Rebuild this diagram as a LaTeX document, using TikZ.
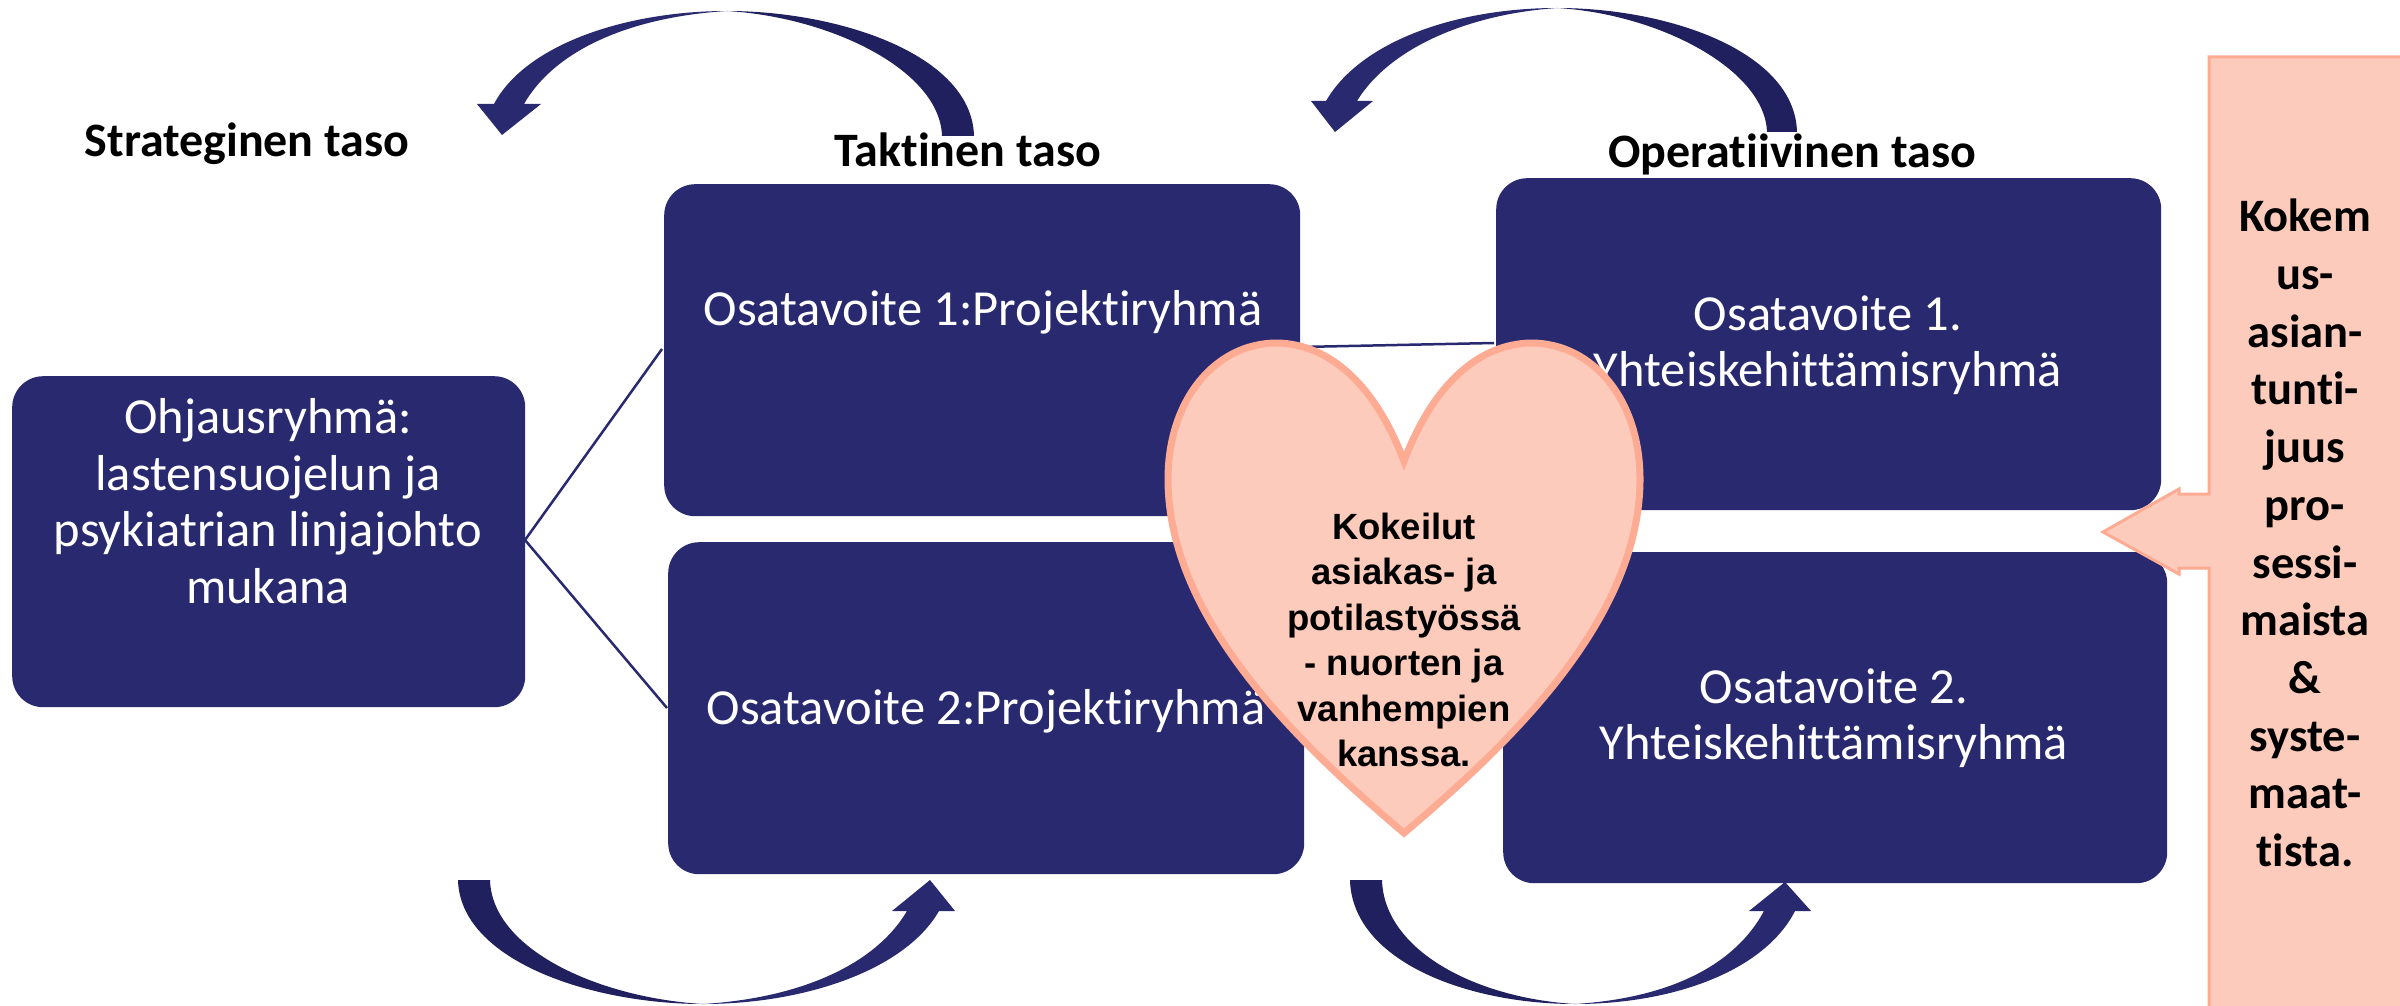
\documentclass[tikz,border=0pt]{standalone}
\usepackage{fontspec}
\setmainfont{Carlito}[Ligatures=NoCommon]
\newfontfamily\heartfont{Liberation Sans}
\definecolor{navy}{HTML}{29296F}
\definecolor{navydark}{HTML}{20205E}
\definecolor{peach}{HTML}{FDCBBC}
\definecolor{peachline}{HTML}{FDAB93}
\tikzset{
  bluebox/.style={fill=navy,rounded corners=31pt,minimum width=#1,anchor=north west,inner sep=0pt},
  boxtext/.style={text=white,font=\fontsize{50.5}{56.5}\selectfont,align=center},
  tasolabel/.style={font=\fontsize{48}{56}\selectfont\bfseries,text=black,inner sep=0pt},
  linkline/.style={draw=navy,line width=2.5pt},
}
\begin{document}
\begin{tikzpicture}[x=1pt,y=-1pt]
\useasboundingbox (0,0) rectangle (2400,1006);
\fill[white] (0,0) rectangle (2400,1006);
% boxes
\node[bluebox=513pt,minimum height=331pt] (ohj) at (12,376) {};
\node[bluebox=636pt,minimum height=332pt] (t1) at (664,184) {};
\node[bluebox=636pt,minimum height=332pt] (t2) at (668,542) {};
\node[bluebox=665pt,minimum height=332pt] (o1) at (1496,178) {};
\node[bluebox=664pt,minimum height=331pt] (o2) at (1503,552) {};
% box texts
\node[boxtext] (ohjt) at (268,501) {Ohjausryhmä:\\lastensuojelun ja\\psykiatrian linjajohto\\mukana};
\node[boxtext] (t1t) at (983,312) {Osatavoite 1:Projektiryhmä};
\node[boxtext] (t2t) at (986,711) {Osatavoite 2:Projektiryhmä};
\node[boxtext] (o1t) at (1828,345) {Osatavoite 1.\\Yhteiskehittämisryhmä};
\node[boxtext] (o2t) at (1834,718) {Osatavoite 2.\\Yhteiskehittämisryhmä};
% links
\coordinate (ohjr) at (525,540);
\coordinate (t1l) at (662,349);
\coordinate (t2l) at (667,708);
\coordinate (t1r) at (1300,347);
\coordinate (o1l) at (1494,343);
\draw[linkline] (t1l) -- (ohjr) -- (t2l);
\draw[linkline] (t1r) -- (o1l);
% labels
\node[tasolabel] (s) at (247,144) {Strateginen taso};
\node[tasolabel] (ta) at (968,150) {Taktinen taso};
\node[tasolabel] (op) at (1792,154) {Operatiivinen taso};
% curved arrows
\fill[navydark] (974,136) -- (942,136) .. controls (940,70) and (830,17) .. (727,11) .. controls (840,11) and (972,55) .. (974,136) -- cycle;
\fill[navy] (727,11) .. controls (630,17) and (555,50) .. (524,104) -- (541,104) -- (502,135) -- (477,104) -- (494,104) .. controls (525,45) and (625,11) .. (727,11) -- cycle;
\fill[navydark] (1797,132) -- (1767,132) .. controls (1765,70) and (1660,14) .. (1557,8) .. controls (1670,8) and (1795,52) .. (1797,132) -- cycle;
\fill[navy] (1557,8) .. controls (1470,14) and (1390,47) .. (1357,101) -- (1373,101) -- (1335,132) -- (1311,101) -- (1326,101) .. controls (1360,42) and (1455,8) .. (1557,8) -- cycle;
\fill[navydark] (458,880) -- (490,880) .. controls (492,950) and (600,998) .. (703,1004) .. controls (590,1004) and (460,960) .. (458,880) -- cycle;
\fill[navy] (703,1004) .. controls (800,998) and (875,965) .. (907,911) -- (892,911) -- (930,880) -- (955,911) -- (939,911) .. controls (905,970) and (805,1004) .. (703,1004) -- cycle;
\fill[navydark] (1350,880) -- (1382,880) .. controls (1384,950) and (1475,998) .. (1575,1004) .. controls (1465,1004) and (1352,960) .. (1350,880) -- cycle;
\fill[navy] (1575,1004) .. controls (1670,998) and (1735,965) .. (1764,911) -- (1749,911) -- (1785,882) -- (1811,911) -- (1795,911) .. controls (1765,970) and (1675,1004) .. (1575,1004) -- cycle;
% heart
\path[fill=peach,draw=peachline,line width=7pt,miter limit=10]
 (1404,461) .. controls (1375,385) and (1330,344) .. (1277,343)
 .. controls (1215,343) and (1168,400) .. (1168,479)
 .. controls (1168,620) and (1300,745) .. (1404,833)
 .. controls (1508,745) and (1640,620) .. (1640,479)
 .. controls (1640,400) and (1593,343) .. (1531,343)
 .. controls (1478,344) and (1433,385) .. (1404,461) -- cycle;
\node[font=\heartfont\fontsize{36.5}{45.5}\selectfont\bfseries,align=center,text=black,inner sep=0pt] (h) at (1404,640) {Kokeilut\\asiakas- ja\\potilastyössä\\- nuorten ja\\vanhempien\\kanssa.};
% right panel
\path[fill=peach,draw=peachline,line width=3pt]
 (2209,57) -- (2402,57) -- (2402,1010) -- (2209,1010) -- (2209,568) -- (2179,568) -- (2179,574) -- (2103,532) -- (2179,489) -- (2179,494) -- (2209,494) -- cycle;
\node[font=\fontsize{46.5}{57.7}\selectfont\bfseries,align=center,text=black,inner sep=0pt] (k) at (2305,533) {Kokem\\us-\\asian-\\tunti-\\juus\\pro-\\sessi-\\maista\\\&\\syste-\\maat-\\tista.};
\end{tikzpicture}
\end{document}
